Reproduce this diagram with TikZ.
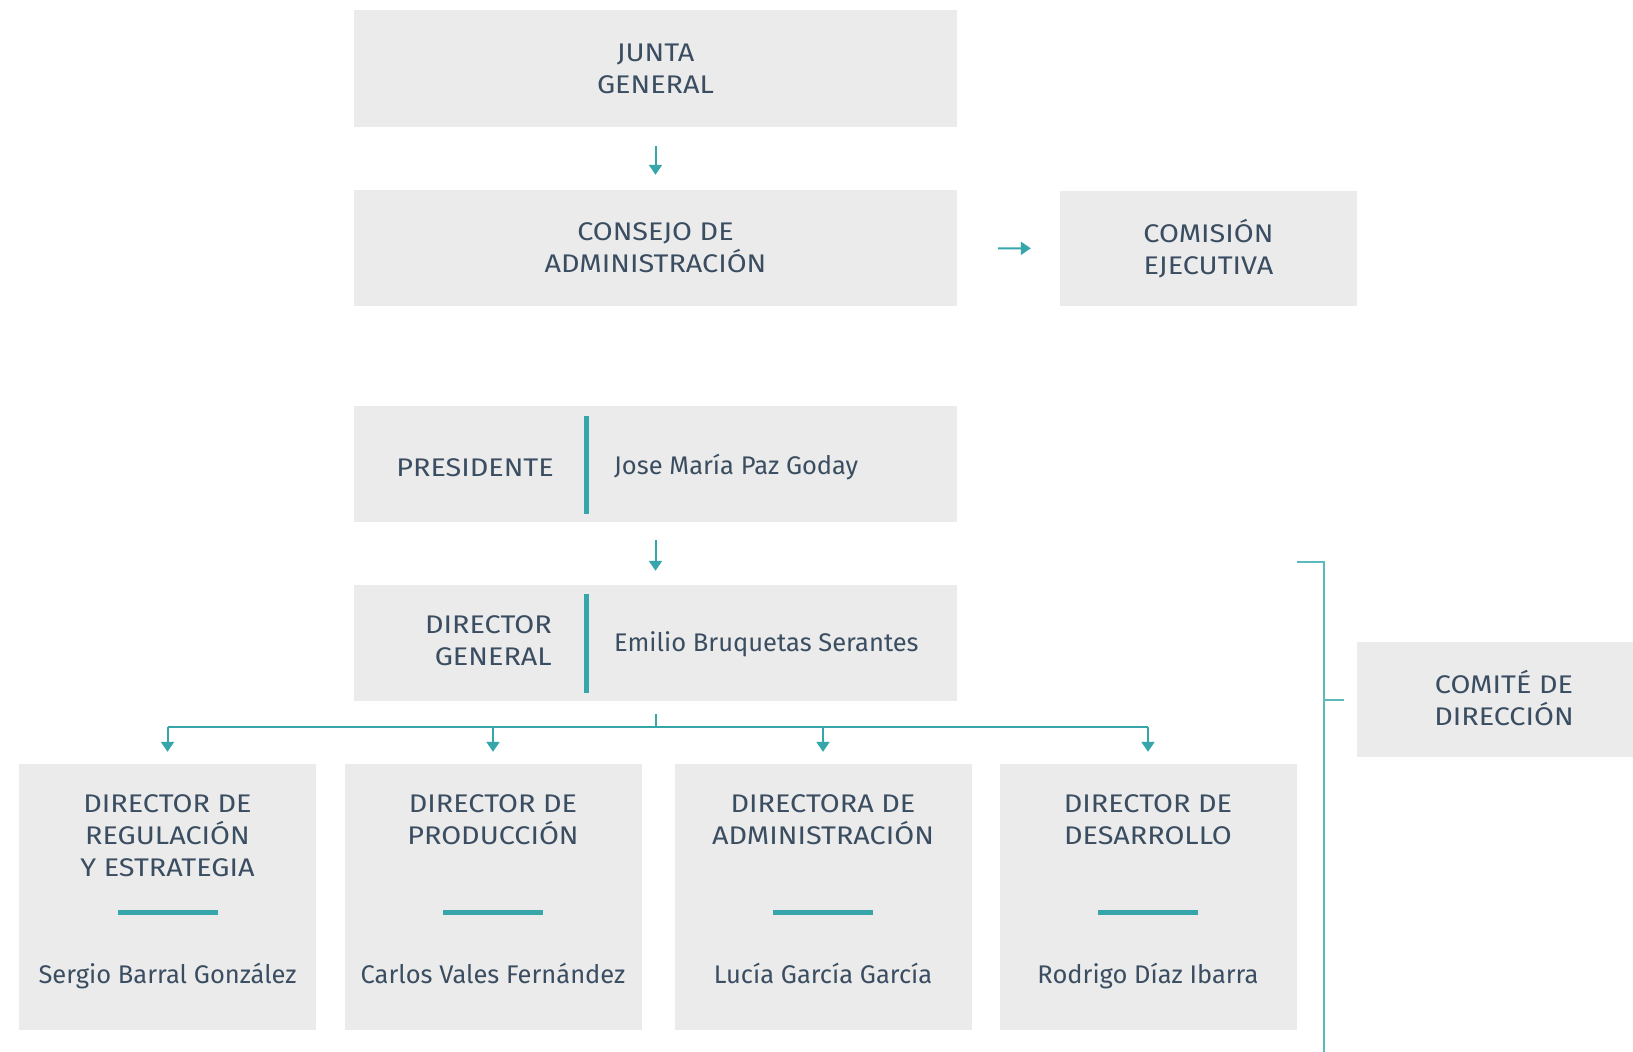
\documentclass[tikz,border=0pt]{standalone}
\usepackage{fontspec}
\setmainfont{Fira Sans}
\newfontfamily\capsfont[FakeStretch=1.13]{Fira Sans}
\usetikzlibrary{arrows.meta}
\definecolor{boxgray}{HTML}{EBEBEB}
\definecolor{txtc}{HTML}{3A4D61}
\definecolor{tealc}{HTML}{36A6AB}
\definecolor{tealb}{HTML}{5DB9BC}
\begin{document}
\begin{tikzpicture}[x=1pt,y=-1pt,
  box/.style={fill=boxgray, draw=none, inner sep=0pt, text=txtc, align=center,
    font=\capsfont\fontsize{25.5}{32}\selectfont},
  lbl/.style={inner sep=0pt, text=txtc, font=\fontsize{25.5}{32}\selectfont},
  caps/.style={inner sep=0pt, text=txtc, font=\capsfont\fontsize{25.5}{32}\selectfont},
  conn/.style={draw=tealc, line width=2pt, -{Triangle[width=13pt,length=10pt]}},
  tline/.style={draw=tealc, line width=2pt},
  divider/.style={draw=tealc, line width=5pt},
  bar/.style={draw=tealc, line width=5pt},
  bracket/.style={draw=tealb, line width=2pt}]
\useasboundingbox[fill=white] (0,0) rectangle (1633,1052);

% top boxes
\node[box, minimum width=603pt, minimum height=117pt] (junta) at (655.5,68.5) {JUNTA\\GENERAL};
\node[box, minimum width=603pt, minimum height=116pt] (consejo) at (655.5,248) {CONSEJO DE\\ADMINISTRACIÓN};
\node[box, minimum width=297pt, minimum height=115pt] (comision) at (1208.5,248.5) {COMISIÓN\\EJECUTIVA};

\draw[conn, shorten <=19pt, shorten >=15pt] (junta) -- (consejo);
\draw[conn, shorten <=41pt, shorten >=29pt] (consejo) -- (comision);

% presidente
\node[box, minimum width=603pt, minimum height=116pt] (pres) at (655.5,464) {};
\node[caps, anchor=base east] (presl) at (554,476) {PRESIDENTE};
\node[lbl, anchor=base west] (presn) at (614,474) {Jose María Paz Goday};
\draw[divider] (586,416) -- (586,514);

% director general
\node[box, minimum width=603pt, minimum height=116pt] (dirgen) at (655.5,643) {};
\node[caps, anchor=east, align=right] (dgl) at (552,641) {DIRECTOR\\GENERAL};
\node[lbl, anchor=base west] (dgn) at (614,651) {Emilio Bruquetas Serantes};
\draw[divider] (586,594) -- (586,693);

\draw[conn, shorten <=18pt, shorten >=14pt] (pres) -- (dirgen);

% bottom boxes
\node[box, minimum width=297pt, minimum height=266pt] (b1) at (167.5,897) {};
\node[box, minimum width=297pt, minimum height=266pt] (b2) at (493,897) {};
\node[box, minimum width=297pt, minimum height=266pt] (b3) at (823,897) {};
\node[box, minimum width=297pt, minimum height=266pt] (b4) at (1148,897) {};

\node[caps, anchor=north, align=center] (t1) at (167.5,794) {DIRECTOR DE\\REGULACIÓN\\Y ESTRATEGIA};
\node[caps, anchor=north, align=center] (t2) at (493,794) {DIRECTOR DE\\PRODUCCIÓN};
\node[caps, anchor=north, align=center] (t3) at (823,794) {DIRECTORA DE\\ADMINISTRACIÓN};
\node[caps, anchor=north, align=center] (t4) at (1148,794) {DIRECTOR DE\\DESARROLLO};

\foreach \b in {b1,b2,b3,b4}{
  \draw[bar] ([xshift=-50pt]\b.center |- 0,912) -- ([xshift=50pt]\b.center |- 0,912);
}

\node[lbl, anchor=base] (n1) at (167.5,983) {Sergio Barral González};
\node[lbl, anchor=base] (n2) at (493,983) {Carlos Vales Fernández};
\node[lbl, anchor=base] (n3) at (823,983) {Lucía García García};
\node[lbl, anchor=base] (n4) at (1148,983) {Rodrigo Díaz Ibarra};

% tree
\coordinate (hub) at (655.5,727);
\draw[tline] ([yshift=-13pt]dirgen.south) -- (hub);
\draw[tline] (b1.north |- hub) -- (b4.north |- hub);
\foreach \b in {b1,b2,b3,b4}{
  \draw[conn, shorten >=12pt] (\b.north |- hub) -- (\b.north);
}

% comite
\node[box, minimum width=276pt, minimum height=115pt] (comite) at (1495,699.5) {};
\node[caps, align=center] (comitel) at (1504,698) {COMITÉ DE\\DIRECCIÓN};
\coordinate (brk) at (1324,562);
\draw[bracket] (b4.north east |- brk) -- (brk) -- (1324,1052);
\draw[bracket] (comite.west -| brk) -- ([xshift=-13pt]comite.west);
\end{tikzpicture}
\end{document}
